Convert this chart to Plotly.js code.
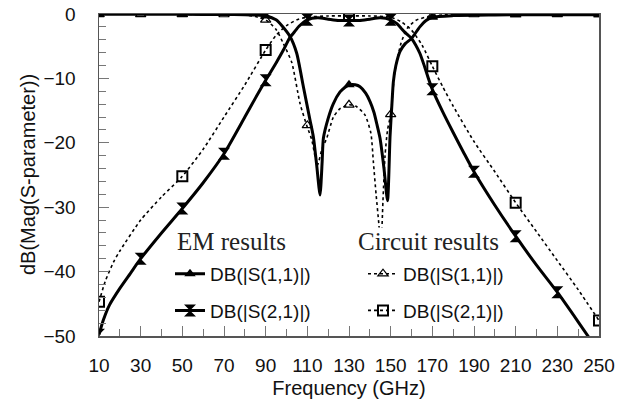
<!DOCTYPE html>
<html>
<head>
<meta charset="utf-8">
<script src="https://cdn.plot.ly/plotly-3.0.1.min.js"></script>
<style>html,body{margin:0;padding:0;background:#fff;}#chart{width:629px;height:406px;}</style>
</head>
<body>
<div id="chart"></div>
<script>
// ---- EM results: DB(|S(1,1)|) curve ----
const emS11Freq = [10, 30, 50, 70, 80, 85, 90, 95, 98, 101.7, 104.9, 108.1, 111.3, 112.9, 114.5, 116.1, 117.1, 117.7, 120, 122.5, 125.7, 128, 130.5, 133, 135.3, 138, 140.1, 142, 143.3, 144.9, 146.8, 148.5, 149.7, 150.6, 151.3, 152.5, 154.5, 157, 160, 164, 167, 170, 180, 200, 220, 250];
const emS11Db   = [-0.05, -0.05, -0.05, -0.08, -0.1, -0.15, -0.3, -0.9, -1.9, -3.5, -6.1, -11.3, -16.5, -19.1, -23.5, -28.1, -23, -19.3, -16.2, -13.9, -12.1, -11.4, -11.0, -11.0, -11.3, -12.3, -13.6, -15.3, -17, -19.3, -24, -29, -19, -14, -10.5, -8, -5.8, -4.6, -3.8, -2.0, -1.0, -0.5, -0.25, -0.15, -0.1, -0.1];
// ---- EM results: DB(|S(2,1)|) curve ----
const emS21Freq = [10, 12, 15, 20, 25, 30, 40, 50, 60, 70, 80, 85, 90, 95, 98.5, 101.7, 103.3, 106, 110, 115, 120, 125, 130, 135, 140, 145, 150, 153, 155, 157, 160, 162, 164, 166, 168, 170, 175, 180, 185, 190, 200, 210, 220, 230, 240, 250];
const emS21Db   = [-49.8, -47.6, -45.2, -42.6, -40.3, -38, -34, -30.2, -26.2, -21.7, -16.0, -13.1, -10.3, -7.6, -5.6, -3.6, -3.0, -1.9, -0.9, -0.6, -0.8, -1.0, -1.0, -1.0, -0.8, -0.6, -0.9, -1.5, -2.2, -2.9, -3.8, -4.8, -6.1, -7.9, -9.9, -11.7, -15.2, -18.4, -21.5, -24.5, -29.7, -34.5, -39, -43.2, -47.8, -52.5];
// ---- Circuit results: DB(|S(1,1)|) curve ----
const ckS11Freq = [10, 30, 50, 70, 80, 85, 90, 95, 98.5, 102.5, 106.5, 109.7, 112.1, 114.8, 117, 119.3, 122.5, 125.7, 130.2, 133.7, 137.7, 140.5, 141.7, 143, 144.3, 145.3, 146.3, 147.3, 148.5, 150, 152, 155, 158, 162, 168, 175, 190, 210, 230, 250];
const ckS11Db   = [-0.05, -0.05, -0.05, -0.08, -0.15, -0.4, -0.9, -2.4, -4.6, -7.5, -13.9, -17.3, -19.5, -23.5, -21, -19.3, -16, -14.7, -14.1, -14.4, -15.7, -18.5, -23, -28, -32.5, -36.5, -29, -22, -18, -15.6, -9, -4.5, -2.2, -1, -0.4, -0.15, -0.08, -0.06, -0.05, -0.05];
// ---- Circuit results: DB(|S(2,1)|) curve ----
const ckS21Freq = [10, 13, 17, 20, 30, 40, 50, 60, 70, 80, 90, 95, 100, 105, 110, 120, 130, 140, 150, 155, 160, 165, 170, 175, 180, 190, 200, 210, 220, 230, 240, 250];
const ckS21Db   = [-44.7, -41.5, -38.5, -36.8, -32, -28.4, -25.2, -21, -16, -11, -5.6, -3.3, -1.8, -0.9, -0.5, -0.3, -0.3, -0.3, -0.5, -1.2, -2.5, -4.8, -8.1, -11.3, -14.3, -19.8, -24.5, -29.3, -33.8, -38.3, -42.8, -47.6];

// ---- marker points ----
const emS11MkFreq = [10, 50, 90, 130, 170, 210, 250];
const emS11MkDb   = [-0.05, -0.05, -0.3, -11.0, -0.5, -0.1, -0.1];
const emS21MkFreq = [10, 30, 50, 70, 90, 110, 130, 150, 170, 190, 210, 230, 250];
const emS21MkDb   = [-49.8, -38, -30.2, -21.7, -10.3, -0.9, -1.0, -0.9, -11.7, -24.5, -34.5, -43.2, -52.5];
const ckS11MkFreq = [10, 30, 50, 70, 90, 110, 130, 150, 170, 190, 210, 230, 250];
const ckS11MkDb   = [-0.05, -0.05, -0.05, -0.08, -0.9, -17.3, -14.1, -15.6, -0.3, -0.08, -0.06, -0.05, -0.05];
const ckS21MkFreq = [10, 50, 90, 130, 170, 210, 250];
const ckS21MkDb   = [-44.7, -25.2, -5.6, -0.3, -8.1, -29.3, -47.6];

const groupTitles = ['EM results', 'Circuit results'];
const seriesNames = ['DB(|S(1,1)|)', 'DB(|S(2,1)|)'];
const yTitle = 'dB(Mag(S-parameter))';
const xTitle = 'Frequency (GHz)';

const BLACK = '#000';
const solid = {color: BLACK, width: 3, shape: 'spline', smoothing: 0.6};
const dotted = {color: BLACK, width: 1.6, dash: 'dot', shape: 'spline', smoothing: 0.6};

const mkEmS11 = {symbol: 'triangle-up', size: 10, color: BLACK};
const mkEmS21 = {symbol: 'hourglass', size: 12, color: BLACK};
const mkCkS11 = {symbol: 'triangle-up-open', size: 9, color: BLACK, line: {width: 1.2, color: BLACK}};
const mkCkS21 = {symbol: 'square-open', size: 10, color: BLACK, line: {width: 2, color: BLACK}};

const traces = [
  {x: ckS21Freq, y: ckS21Db, mode: 'lines', line: dotted, showlegend: false, hoverinfo: 'skip'},
  {x: ckS11Freq, y: ckS11Db, mode: 'lines', line: dotted, showlegend: false, hoverinfo: 'skip'},
  {x: emS21Freq, y: emS21Db, mode: 'lines', line: solid, showlegend: false, hoverinfo: 'skip'},
  {x: emS11Freq, y: emS11Db, mode: 'lines', line: solid, showlegend: false, hoverinfo: 'skip'},
  {x: ckS21MkFreq, y: ckS21MkDb, mode: 'markers', marker: mkCkS21, showlegend: false},
  {x: ckS11MkFreq, y: ckS11MkDb, mode: 'markers', marker: mkCkS11, showlegend: false},
  {x: emS21MkFreq, y: emS21MkDb, mode: 'markers', marker: mkEmS21, showlegend: false},
  {x: emS11MkFreq, y: emS11MkDb, mode: 'markers', marker: mkEmS11, showlegend: false},
  // legend entries
  {x: [null], y: [null], mode: 'lines+markers', name: seriesNames[0], legend: 'legend', legendgroup: 'e1', line: {color: BLACK, width: 3}, marker: mkEmS11},
  {x: [null], y: [null], mode: 'lines+markers', name: seriesNames[1], legend: 'legend', legendgroup: 'e2', line: {color: BLACK, width: 3}, marker: mkEmS21},
  {x: [null], y: [null], mode: 'lines+markers', name: seriesNames[0], legend: 'legend2', legendgroup: 'c1', line: {color: BLACK, width: 1.6, dash: 'dot'}, marker: mkCkS11},
  {x: [null], y: [null], mode: 'lines+markers', name: seriesNames[1], legend: 'legend2', legendgroup: 'c2', line: {color: BLACK, width: 1.6, dash: 'dot'}, marker: mkCkS21}
];

const legendCommon = {
  xanchor: 'left', yanchor: 'top', bgcolor: 'rgba(0,0,0,0)', borderwidth: 0,
  font: {family: 'Liberation Sans, Arial, sans-serif', size: 19, color: '#111'},
  traceorder: 'grouped', tracegroupgap: 9, itemwidth: 30
};

const layout = {
  width: 629, height: 406,
  margin: {l: 99, r: 30, t: 14, b: 70, pad: 0},
  paper_bgcolor: '#fff', plot_bgcolor: '#fff',
  font: {family: 'Liberation Sans, Arial, sans-serif', size: 19, color: '#111'},
  showlegend: true,
  xaxis: {
    range: [10, 250], tick0: 10, dtick: 20, ticks: 'inside', ticklen: 10, tickwidth: 1, tickcolor: '#777',
    minor: {dtick: 10, tick0: 10, ticks: 'inside', ticklen: 7, tickwidth: 1, tickcolor: '#777'},
    showline: true, linecolor: '#555', linewidth: 1.5, mirror: true, showgrid: false, zeroline: false,
    tickfont: {size: 19}, ticklabelstandoff: 12,
    title: {text: xTitle, font: {size: 20}, standoff: 5}
  },
  yaxis: {
    range: [-50, 0], dtick: 10, ticks: 'inside', ticklen: 10, tickwidth: 1, tickcolor: '#777',
    minor: {dtick: 2, ticks: 'inside', ticklen: 7, tickwidth: 1, tickcolor: '#777'},
    showline: true, linecolor: '#555', linewidth: 1.5, mirror: true, showgrid: false, zeroline: false,
    tickfont: {size: 19}, ticklabelstandoff: 18
  },
  legend: Object.assign({}, legendCommon, {x: 0.142, y: 0.252}),
  legend2: Object.assign({}, legendCommon, {x: 0.528, y: 0.252}),
  annotations: [
    {text: yTitle, xref: 'paper', yref: 'paper', x: -0.142, y: 0.5, xanchor: 'center', yanchor: 'middle',
     textangle: -90, showarrow: false, font: {family: 'Liberation Sans, Arial, sans-serif', size: 20, color: '#111'}},
    {text: groupTitles[0], xref: 'paper', yref: 'paper', x: 0.154, y: 0.295, xanchor: 'left', yanchor: 'middle',
     showarrow: false, font: {family: 'Liberation Serif, Times New Roman, serif', size: 25, color: '#222'}, bgcolor: '#fff', borderpad: 0},
    {text: groupTitles[1], xref: 'paper', yref: 'paper', x: 0.516, y: 0.295, xanchor: 'left', yanchor: 'middle',
     showarrow: false, font: {family: 'Liberation Serif, Times New Roman, serif', size: 25, color: '#222'}, bgcolor: '#fff', borderpad: 0}
  ]
};

Plotly.newPlot('chart', traces, layout, {staticPlot: true, displayModeBar: false});
</script>
</body>
</html>
